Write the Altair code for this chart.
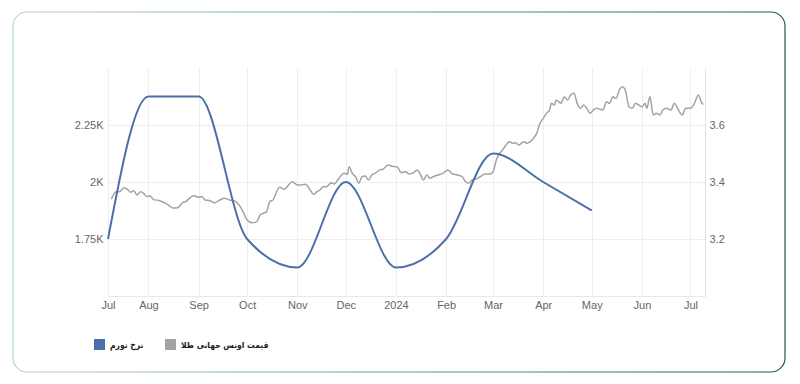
import altair as alt
import pandas as pd

# ---- data ----
gold_start = "2023-07-07"
gold_day_offsets = [2, 5, 7, 10, 12, 14, 16, 18, 20, 22, 24, 26, 28, 32, 35, 37, 40, 42, 44, 46, 48, 51, 53, 56, 58,
                    60, 63, 66, 69, 72, 75, 79, 81, 83, 86, 89, 92, 94, 96, 98, 100, 102, 103, 106, 109, 111, 114, 117,
                    119, 122, 125, 127, 129, 131, 133, 135, 138, 140, 142, 146, 148, 149, 151, 153, 155, 157, 159, 161,
                    163, 165, 168, 170, 173, 175, 179, 180,
                    181, 184, 186, 189, 191, 193, 195, 197, 199, 201, 204, 207, 210, 213, 216, 219, 221, 223, 225, 227,
                    230, 233, 236, 238, 240, 242,
                    243, 246, 248, 250, 252, 254, 257, 259, 261, 263, 265, 267, 269, 271, 273, 274, 276, 277, 280, 282,
                    284, 286, 288, 290, 292, 294, 296, 298, 300, 302, 304,
                    306, 308, 310, 312, 314, 316, 318, 320, 322, 324, 326, 328, 330, 332, 333, 335, 337, 339, 341, 343,
                    345, 348, 350, 352, 355, 357, 360, 362, 365, 367, 368]
gold_price = [1924, 1957, 1957, 1975, 1968, 1955, 1962, 1943, 1957, 1950, 1936, 1939, 1924, 1918, 1909, 1901, 1886,
              1886, 1892, 1909, 1914, 1933, 1940, 1933, 1936,
              1921, 1918, 1909, 1921, 1929, 1921, 1914, 1899, 1877, 1833, 1821, 1826, 1855, 1863, 1870, 1914, 1921,
              1936, 1977, 1968, 1982, 2001, 1987,
              1987, 1990, 1965, 1946, 1957, 1965, 1979, 1979, 1997, 1991, 2009, 2038, 2034, 2067, 2038, 2023, 1994,
              2023, 2026, 2009, 2031, 2038, 2053, 2056, 2075, 2070, 2064, 2053,
              2041, 2045, 2035, 2041, 2053, 2035, 2009, 2031, 2016, 2023, 2031, 2038, 2053, 2035, 2031, 2023, 2001,
              1994, 2009, 2012, 2023, 2035, 2035, 2045, 2096, 2126,
              2133, 2162, 2177, 2170, 2172, 2162, 2177, 2170, 2177, 2192, 2214, 2257, 2279, 2301, 2316, 2345, 2338,
              2360, 2345, 2374, 2360, 2382, 2389, 2345, 2323, 2338, 2323, 2301, 2316, 2323, 2319,
              2316, 2352, 2345, 2374, 2367, 2404, 2418, 2396, 2330, 2323, 2345, 2338, 2330, 2345, 2323, 2374, 2294,
              2301, 2294, 2316, 2323, 2316, 2345, 2323, 2294, 2323, 2323, 2338, 2382, 2345, 2341]

infl_dates = ["2023-07-07", "2023-08-01", "2023-09-01", "2023-10-01", "2023-11-01", "2023-12-01",
              "2024-01-01", "2024-02-01", "2024-03-01", "2024-04-01", "2024-05-01"]
infl_rate = [3.2, 3.7, 3.7, 3.2, 3.1, 3.4, 3.1, 3.2, 3.5, 3.4, 3.3]

tick_dates = ["2023-07-07", "2023-08-01", "2023-09-01", "2023-10-01", "2023-11-01", "2023-12-01",
              "2024-01-01", "2024-02-01", "2024-03-01", "2024-04-01", "2024-05-01", "2024-06-01", "2024-07-01"]

name_gold = "قیمت اونس جهانی طلا"
name_infl = "نرخ تورم"

gold_df = pd.DataFrame({
    "date": (pd.Timestamp(gold_start) + pd.to_timedelta(gold_day_offsets, unit="D")).strftime("%Y-%m-%dT00:00:00"),
    "value": gold_price,
    "series": name_gold,
})
infl_df = pd.DataFrame({
    "date": pd.to_datetime(infl_dates).strftime("%Y-%m-%dT00:00:00"),
    "value": infl_rate,
    "series": name_infl,
})


def dt(s):
    t = pd.Timestamp(s)
    return alt.DateTime(year=t.year, month=t.month, date=t.day)


x_enc = alt.X(
    "date:T",
    title=None,
    scale=alt.Scale(domain=[dt("2023-07-07"), dt("2024-07-10")]),
    axis=alt.Axis(
        values=[dt(d) for d in tick_dates],
        labelExpr="month(datum.value) == 0 ? timeFormat(datum.value, '%Y') : timeFormat(datum.value, '%b')",
        labelFlush=False,
        labelOverlap=False,
        ticks=False,
        labelPadding=3,
        grid=True,
        gridColor="#eeeeee",
        domain=True,
        domainColor="#e8e8e8",
    ),
)

color_enc = alt.Color(
    "series:N",
    scale=alt.Scale(domain=[name_infl, name_gold], range=["#4b6fa8", "#a3a3a3"]),
    legend=alt.Legend(
        title=None,
        orient="none",
        legendX=-14,
        legendY=271,
        direction="horizontal",
        symbolType="square",
        symbolSize=1,
        symbolStrokeWidth=10,
        symbolOpacity=1,
        labelFont="DejaVu Sans Condensed",
        labelFontWeight="bold",
        labelFontSize=8.5,
        labelColor="#222222",
        labelOffset=5,
        columnPadding=6,
    ),
)

gold_line = alt.Chart(gold_df).mark_line(strokeWidth=1.5, interpolate="monotone").encode(
    x=x_enc,
    y=alt.Y(
        "value:Q",
        title=None,
        scale=alt.Scale(domain=[1500, 2500], nice=False, zero=False),
        axis=alt.Axis(
            orient="left",
            values=[1750, 2000, 2250],
            labelExpr="datum.value / 1000 + 'K'",
            ticks=False,
            domain=False,
            labelPadding=5,
            grid=True,
            gridColor="#eeeeee",
        ),
    ),
    color=color_enc,
)

infl_line = alt.Chart(infl_df).mark_line(strokeWidth=2, interpolate="monotone").encode(
    x=x_enc,
    y=alt.Y(
        "value:Q",
        title=None,
        scale=alt.Scale(domain=[3.0, 3.8], nice=False, zero=False),
        axis=alt.Axis(
            orient="right",
            values=[3.2, 3.4, 3.6],
            format=".1f",
            ticks=False,
            domain=True,
            domainColor="#e0e0e0",
            labelPadding=4,
            grid=False,
        ),
    ),
    color=color_enc,
)

card = alt.Chart(alt.Data(values=[{"k": 1}])).mark_rect(
    cornerRadius=14,
    fillOpacity=0,
    strokeWidth=1.2,
    clip=False,
    stroke=alt.Gradient(
        gradient="linear",
        x1=0, x2=1, y1=0, y2=0,
        stops=[alt.GradientStop(color="#b7d8c4", offset=0), alt.GradientStop(color="#1f5e3f", offset=1)],
    ),
).encode(
    x=alt.value(-95),
    x2=alt.value(677),
    y=alt.value(-56),
    y2=alt.value(304),
)

chart = alt.layer(gold_line, infl_line, card).resolve_scale(y="independent").properties(
    width=597,
    height=228,
    autosize=alt.AutoSizeParams(type="none"),
    padding={"left": 100, "top": 60, "right": 87, "bottom": 80},
    background="white",
).configure_view(stroke=None).configure_axis(
    labelFont="Liberation Sans",
    labelFontSize=11,
    labelColor="#666666",
)

chart.save("out.html", embed_options={"renderer": "svg", "actions": False})
